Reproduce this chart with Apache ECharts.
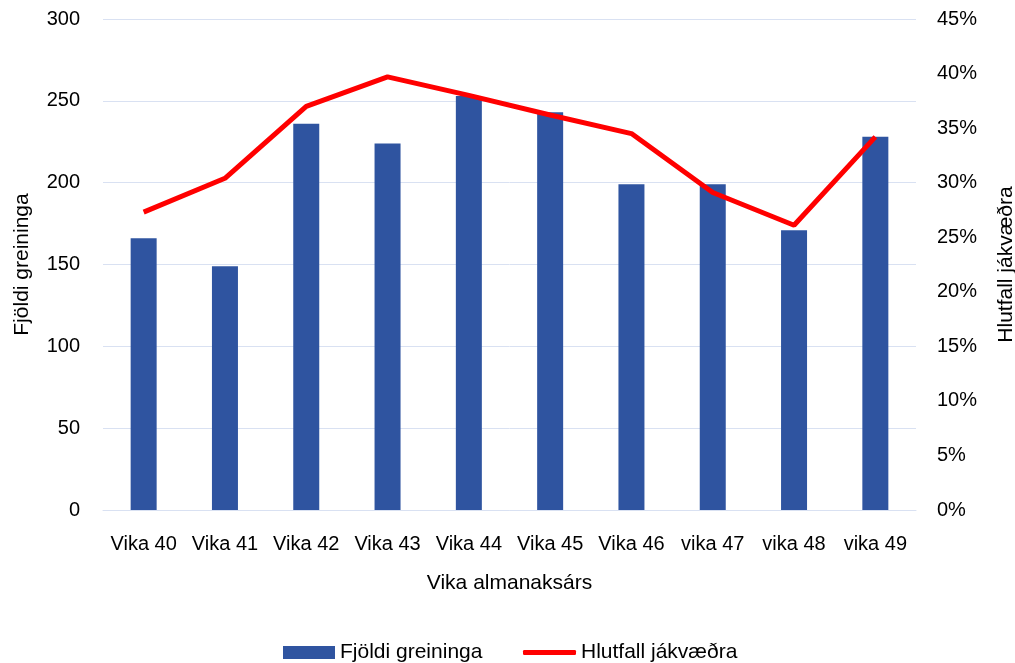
<!DOCTYPE html>
<html>
<head>
<meta charset="utf-8">
<script src="https://cdn.jsdelivr.net/npm/echarts@6/dist/echarts.min.js"></script>
<style>html,body{margin:0;padding:0;background:#fff}#c{width:1015px;height:663px}</style>
</head>
<body>
<div id="c"></div>
<script>
var categories = ['Vika 40','Vika 41','Vika 42','Vika 43','Vika 44','Vika 45','Vika 46','vika 47','vika 48','vika 49'];
var countValues = [166, 149, 236, 224, 253, 243, 199, 199, 171, 228];
var percentValues = [27.3, 30.4, 37.0, 39.7, 38.0, 36.2, 34.5, 29.1, 26.1, 34.2];
var leftTicks = {min: 0, max: 300, interval: 50};
var rightTicks = {min: 0, max: 45, interval: 5};

var FONT = '"Liberation Sans", Arial, sans-serif';
var chart = echarts.init(document.getElementById('c'), null, {renderer: 'canvas'});
chart.setOption({
  animation: false,
  textStyle: {fontFamily: FONT, color: '#000'},
  grid: {left: 103, right: 99, top: 19, bottom: 153, containLabel: false, outerBoundsMode: 'none'},
  legend: [{
    top: 637, left: 278, itemWidth: 52, itemHeight: 13, itemGap: 6,
    textStyle: {fontFamily: FONT, fontSize: 21, color: '#000'},
    data: [{name: 'Fjöldi greininga', icon: 'rect'}]
  }, {
    top: 637, left: 518, itemWidth: 53, itemHeight: 5,
    textStyle: {fontFamily: FONT, fontSize: 21, color: '#000'},
    data: [{name: 'Hlutfall jákvæðra', icon: 'roundRect'}]
  }],
  xAxis: {
    type: 'category', data: categories,
    axisLine: {lineStyle: {color: '#D9E1F2', width: 1}},
    axisTick: {show: false},
    axisLabel: {fontFamily: FONT, fontSize: 20, color: '#000', margin: 24, interval: 0},
    name: 'Vika almanaksárs', nameLocation: 'middle', nameGap: 63,
    nameTextStyle: {fontFamily: FONT, fontSize: 21, color: '#000'}
  },
  yAxis: [{
    type: 'value', min: leftTicks.min, max: leftTicks.max, interval: leftTicks.interval,
    axisLine: {show: false}, axisTick: {show: false},
    splitLine: {lineStyle: {color: '#D9E1F2', width: 1}},
    axisLabel: {fontFamily: FONT, fontSize: 20, color: '#000', margin: 23},
    name: 'Fjöldi greininga', nameLocation: 'middle', nameRotate: 90, nameGap: 70,
    nameTextStyle: {fontFamily: FONT, fontSize: 21, color: '#000'}
  }, {
    type: 'value', min: rightTicks.min, max: rightTicks.max, interval: rightTicks.interval,
    position: 'right',
    axisLine: {show: false}, axisTick: {show: false}, splitLine: {show: false},
    axisLabel: {fontFamily: FONT, fontSize: 20, color: '#000', margin: 21, formatter: '{value}%'},
    name: 'Hlutfall jákvæðra', nameLocation: 'middle', nameRotate: 90, nameGap: 80,
    nameTextStyle: {fontFamily: FONT, fontSize: 21, color: '#000'}
  }],
  series: [{
    name: 'Fjöldi greininga', type: 'bar', data: countValues, yAxisIndex: 0,
    barWidth: 26, itemStyle: {color: '#2F54A0'}
  }, {
    name: 'Hlutfall jákvæðra', type: 'line', data: percentValues, yAxisIndex: 1,
    symbol: 'none', showSymbol: false, smooth: false,
    lineStyle: {color: '#FF0000', width: 5}, itemStyle: {color: '#FF0000'}
  }]
});
</script>
</body>
</html>
